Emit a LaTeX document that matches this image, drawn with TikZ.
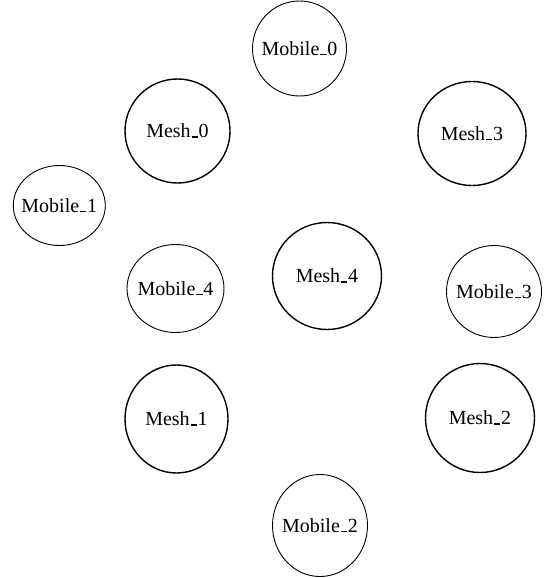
\documentclass[tikz,border=0pt]{standalone}
\usepackage{fontspec}
\setmainfont{Liberation Serif}
\usetikzlibrary{shapes.geometric}
\newcommand\usc{\kern0.04em\rule[0pt]{0.32em}{1.8pt}\kern0.04em}
\newcommand\ctext[1]{\makebox[0pt]{#1}}
\tikzset{
  lbl/.style={ellipse, draw, inner sep=0pt, font=\fontsize{20}{23}\selectfont},
  meshnode/.style={lbl, line width=1.4pt},
  mobnode/.style={lbl, line width=0.9pt},
}
\begin{document}
\begin{tikzpicture}[x=1pt,y=-1pt]
\useasboundingbox (0,0) rectangle (545,578);
\node[mobnode, minimum width=94pt, minimum height=95pt] (mob0) at (299.5,48.5) {\ctext{Mobile\usc0}};
\node[meshnode, minimum width=105pt, minimum height=104pt] (mesh0) at (177.5,131) {\ctext{Mesh\usc0}};
\node[meshnode, minimum width=108pt, minimum height=104pt] (mesh3) at (472,133.5) {\ctext{Mesh\usc3}};
\node[mobnode, minimum width=92pt, minimum height=80pt] (mob1) at (59.3,205.5) {\ctext{Mobile\usc1}};
\node[meshnode, minimum width=109pt, minimum height=107pt] (mesh4) at (327,276) {\ctext{Mesh\usc4}};
\node[mobnode, minimum width=97pt, minimum height=88pt] (mob4) at (175.5,288.5) {\ctext{Mobile\usc4}};
\node[mobnode, minimum width=95pt, minimum height=92pt] (mob3) at (494,291.5) {\ctext{Mobile\usc3}};
\node[meshnode, minimum width=103pt, minimum height=108pt] (mesh1) at (176.5,419) {\ctext{Mesh\usc1}};
\node[meshnode, minimum width=109pt, minimum height=109pt] (mesh2) at (480,418) {\ctext{Mesh\usc2}};
\node[mobnode, minimum width=95pt, minimum height=102pt] (mob2) at (320,525.5) {\ctext{Mobile\usc2}};
\end{tikzpicture}
\end{document}
